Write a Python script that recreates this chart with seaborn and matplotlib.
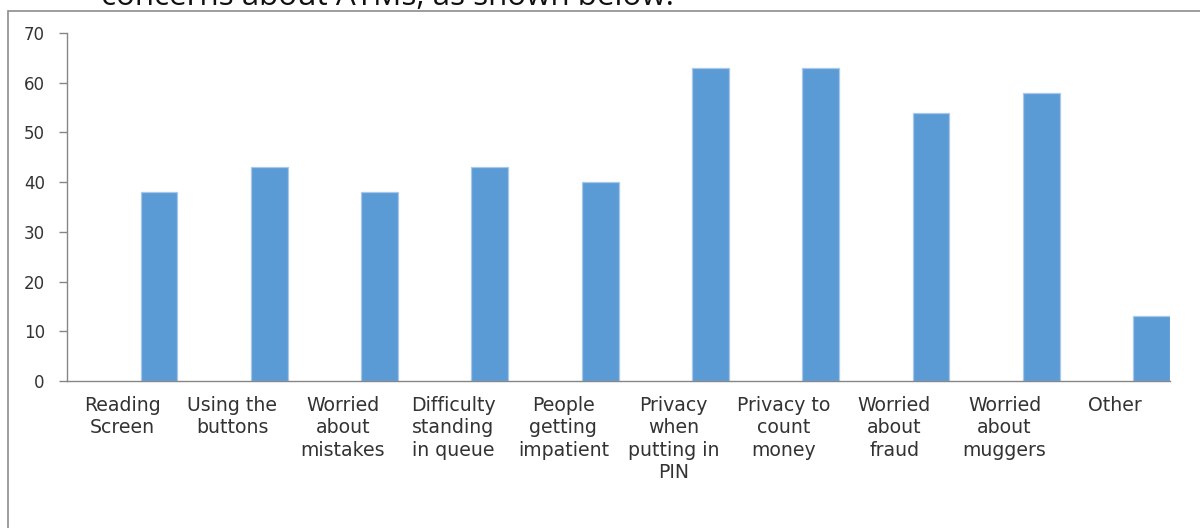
import matplotlib
matplotlib.use("Agg")
import matplotlib.pyplot as plt
from matplotlib.patches import Rectangle
from matplotlib.ticker import FixedLocator
import numpy as np
import pandas as pd
import seaborn as sns

# Concerns reported about using ATMs
categories = [
    "Reading\nScreen",
    "Using the\nbuttons",
    "Worried\nabout\nmistakes",
    "Difficulty\nstanding\nin queue",
    "People\ngetting\nimpatient",
    "Privacy\nwhen\nputting in\nPIN",
    "Privacy to\ncount\nmoney",
    "Worried\nabout\nfraud",
    "Worried\nabout\nmuggers",
    "Other",
]
responses = [38, 43, 38, 43, 40, 63, 63, 54, 58, 13]

# Three series slots per category; only the last one carries data
series_order = ["Series 1", "Series 2", "Series 3"]
y_ticks = [0, 10, 20, 30, 40, 50, 60, 70]

df = pd.DataFrame({
    "category": categories,
    "series": ["Series 3"] * len(categories),
    "value": responses,
})

sns.set_theme(style="white")
plt.rcParams["font.family"] = ["DejaVu Sans"]

fig = plt.figure(figsize=(12, 5.28), dpi=100)
ax = fig.add_axes([67 / 1200, 1 - 381 / 528, (1170 - 67) / 1200, (381 - 33) / 528])

bar_color = "#5B9BD5"
sns.barplot(
    data=df, x="category", y="value", hue="series",
    hue_order=series_order, order=categories,
    palette={s: bar_color for s in series_order},
    width=1.0, dodge=True, legend=False, errorbar=None,
    edgecolor="#A8C8EA", linewidth=0.9, saturation=1, ax=ax,
)

axis_gray = "#868686"
text_gray = "#333333"

ax.set_ylim(0, 70)
ax.set_xlim(-0.5, len(categories) - 0.5)
ax.set_yticks(y_ticks)
ax.set_yticklabels([str(v) for v in y_ticks], fontsize=12, color=text_gray)
ax.set_xlabel("")
ax.set_ylabel("")

ax.set_xticks(range(len(categories)))
ax.set_xticklabels(categories, fontsize=13.6, color=text_gray, linespacing=1.24)
ax.xaxis.set_minor_locator(FixedLocator(np.arange(-0.5, len(categories), 1.0)))
ax.tick_params(axis="x", which="major", length=0, pad=10.5)
ax.tick_params(axis="x", which="minor", length=4.5, width=1, color=axis_gray, direction="out")
ax.tick_params(axis="y", which="major", length=6, width=1, color=axis_gray, direction="out",
               pad=10, left=True)

for side in ("top", "right"):
    ax.spines[side].set_visible(False)
for side in ("left", "bottom"):
    ax.spines[side].set_color(axis_gray)
    ax.spines[side].set_linewidth(1)
ax.grid(False)

# Chart frame, running past the right and bottom edges
fig.add_artist(Rectangle((7.5 / 1200, -0.2), 1.2, 1.2 - 10.5 / 528,
                         transform=fig.transFigure, fill=False,
                         edgecolor="#8C8C8C", linewidth=1.2))

# Document line above the chart
fig.text(101 / 1200, 1 - 5 / 528, "concerns about ATMs, as shown below.",
         fontsize=22.6, color="#111111", ha="left", va="baseline",
         family=["Open Sans", "DejaVu Sans"])

fig.savefig("out.png", dpi=100)
